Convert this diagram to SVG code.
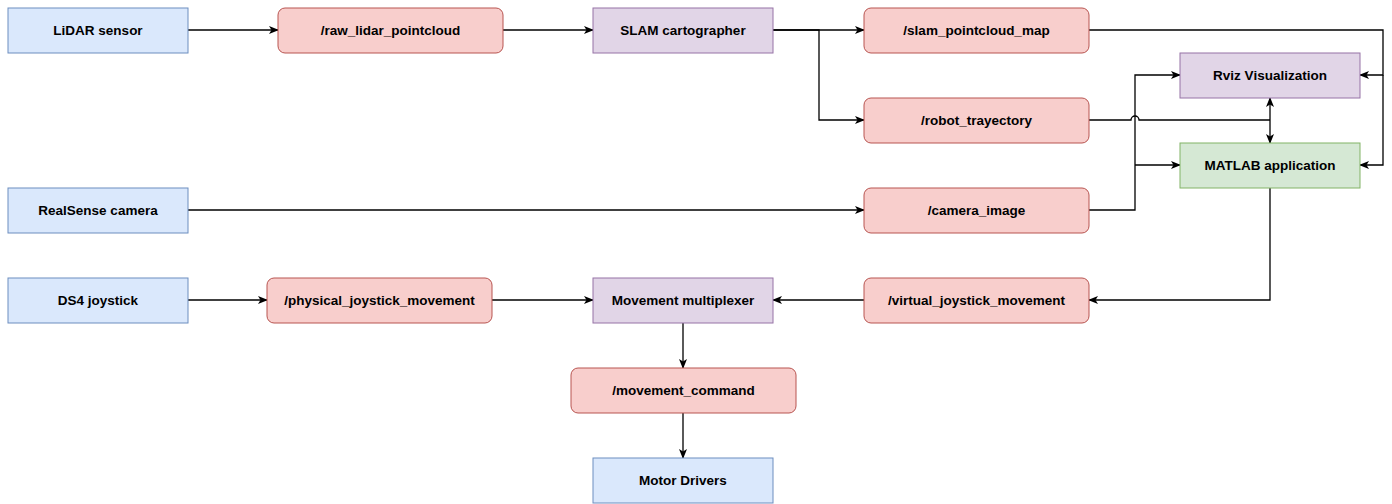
<svg xmlns="http://www.w3.org/2000/svg" width="1392" height="504" viewBox="0 0 1392 504">
<style>
.n text{font-family:"Liberation Sans",Arial,sans-serif;font-weight:bold;font-size:13.5px;fill:#000;text-anchor:middle;dominant-baseline:central}
.blue rect{fill:#dae8fc;stroke:#6c8ebf}
.red rect{fill:#f8cecc;stroke:#b85450}
.purple rect{fill:#e1d5e7;stroke:#9673a6}
.green rect{fill:#d5e8d4;stroke:#82b366}
.c path{fill:none;stroke:#000;stroke-width:1.3}
.c .a{marker-end:url(#arr)}
</style>
<defs>
<marker id="arr" viewBox="0 0 10 8" refX="9" refY="4" markerWidth="10" markerHeight="8" markerUnits="userSpaceOnUse" orient="auto">
<path d="M0,0 L10,4 L0,8 L2.5,4 Z" fill="#000"/>
</marker>
</defs>
<rect width="1392" height="504" fill="#fff"/>
<g id="connectors" class="c">
<path class="a" d="M188,30 H278"/>
<path class="a" d="M503,30 H593"/>
<path class="a" d="M773,30 H864"/>
<path class="a" d="M773,30 H819 V120 H864"/>
<path class="a" d="M1089,30 H1383 V75 H1360"/>
<path class="a" d="M1383,75 V165 H1360"/>
<path d="M1089,120 H1131 A4,4 0 0 1 1139,120 H1270"/>
<path class="a" d="M1270,120 V98"/>
<path class="a" d="M1270,120 V143"/>
<path class="a" d="M1089,210 H1135 V75 H1180"/>
<path class="a" d="M1135,165 H1180"/>
<path class="a" d="M188,210 H864"/>
<path class="a" d="M1270,188 V300 H1089"/>
<path class="a" d="M188,300 H267"/>
<path class="a" d="M492,300 H593"/>
<path class="a" d="M864,300 H773"/>
<path class="a" d="M683,323 V368"/>
<path class="a" d="M683,413 V458"/>
</g>
<g id="lidar" class="n blue"><rect x="8" y="8" width="180" height="45"/><text x="98" y="30.5">LiDAR sensor</text></g>
<g id="raw_lidar" class="n red"><rect x="278" y="8" width="225" height="45" rx="7"/><text x="390.5" y="30.5">/raw_lidar_pointcloud</text></g>
<g id="slam" class="n purple"><rect x="593" y="8" width="180" height="45"/><text x="683" y="30.5">SLAM cartographer</text></g>
<g id="slam_map" class="n red"><rect x="864" y="8" width="225" height="45" rx="7"/><text x="976.5" y="30.5">/slam_pointcloud_map</text></g>
<g id="rviz" class="n purple"><rect x="1180" y="53" width="180" height="45"/><text x="1270" y="75.5">Rviz Visualization</text></g>
<g id="robot_traj" class="n red"><rect x="864" y="98" width="225" height="45" rx="7"/><text x="976.5" y="120.5">/robot_trayectory</text></g>
<g id="matlab" class="n green"><rect x="1180" y="143" width="180" height="45"/><text x="1270" y="165.5">MATLAB application</text></g>
<g id="realsense" class="n blue"><rect x="8" y="188" width="180" height="45"/><text x="98" y="210.5">RealSense camera</text></g>
<g id="camera_image" class="n red"><rect x="864" y="188" width="225" height="45" rx="7"/><text x="976.5" y="210.5">/camera_image</text></g>
<g id="ds4" class="n blue"><rect x="8" y="278" width="180" height="45"/><text x="98" y="300.5">DS4 joystick</text></g>
<g id="physical" class="n red"><rect x="267" y="278" width="225" height="45" rx="7"/><text x="379.5" y="300.5">/physical_joystick_movement</text></g>
<g id="mux" class="n purple"><rect x="593" y="278" width="180" height="45"/><text x="683" y="300.5">Movement multiplexer</text></g>
<g id="virtual" class="n red"><rect x="864" y="278" width="225" height="45" rx="7"/><text x="976.5" y="300.5">/virtual_joystick_movement</text></g>
<g id="movement_command" class="n red"><rect x="571" y="368" width="225" height="45" rx="7"/><text x="683.5" y="390.5">/movement_command</text></g>
<g id="motor" class="n blue"><rect x="593" y="458" width="180" height="45"/><text x="683" y="480.5">Motor Drivers</text></g>
</svg>
